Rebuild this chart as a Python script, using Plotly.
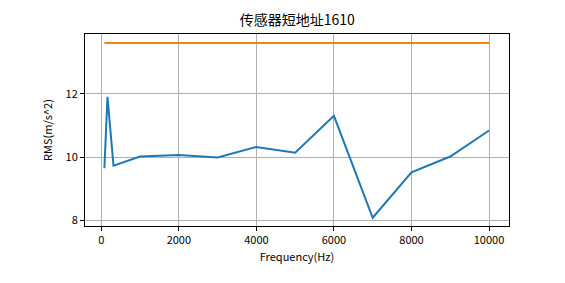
import plotly.graph_objects as go

freq = [80, 160, 315, 1000, 2000, 3000, 4000, 5000, 6000, 7000, 8000, 9000, 10000]
rms = [9.65, 11.9, 9.73, 10.02, 10.07, 9.99, 10.32, 10.14, 11.3, 8.09, 9.52, 10.02, 10.84]
limit = [13.6] * len(freq)

xticks = [0, 2000, 4000, 6000, 8000, 10000]
xticklabels = ["0", "2000", "4000", "6000", "8000", "10000"]
yticks = [8, 10, 12]
yticklabels = ["8", "10", "12"]

title = "传感器短地址1610"
xlabel = "Frequency(Hz)"
ylabel = "RMS(m/s^2)"
font = "Noto Sans CJK SC, DejaVu Sans, sans-serif"

fig = go.Figure()
fig.add_trace(go.Scatter(x=freq, y=rms, mode="lines",
                         line=dict(color="#1f77b4", width=2), showlegend=False))
fig.add_trace(go.Scatter(x=freq, y=limit, mode="lines",
                         line=dict(color="#ff7f0e", width=2), showlegend=False))

axis_common = dict(showline=True, linecolor="black", linewidth=1, mirror=True,
                   ticks="outside", ticklen=4, tickcolor="black",
                   showgrid=True, gridcolor="#b0b0b0", gridwidth=1,
                   zeroline=False, tickfont=dict(size=11, color="black", family=font))

fig.update_layout(
    width=565, height=283,
    margin=dict(l=85, r=56, t=34, b=57),
    paper_bgcolor="white", plot_bgcolor="white",
    font=dict(family=font, color="black"),
    title=dict(text=title, x=0.526, xanchor="center", y=0.93, yanchor="middle",
               font=dict(size=14, family=font, color="black")),
    xaxis=dict(range=[-420, 10515], tickvals=xticks, ticktext=xticklabels,
               title=dict(text=xlabel, font=dict(size=11, family=font), standoff=7),
               **axis_common),
    yaxis=dict(range=[7.83, 13.88], tickvals=yticks, ticktext=yticklabels,
               title=dict(text=ylabel, font=dict(size=11, family=font), standoff=10),
               **axis_common),
)

fig.write_html("out.html")
